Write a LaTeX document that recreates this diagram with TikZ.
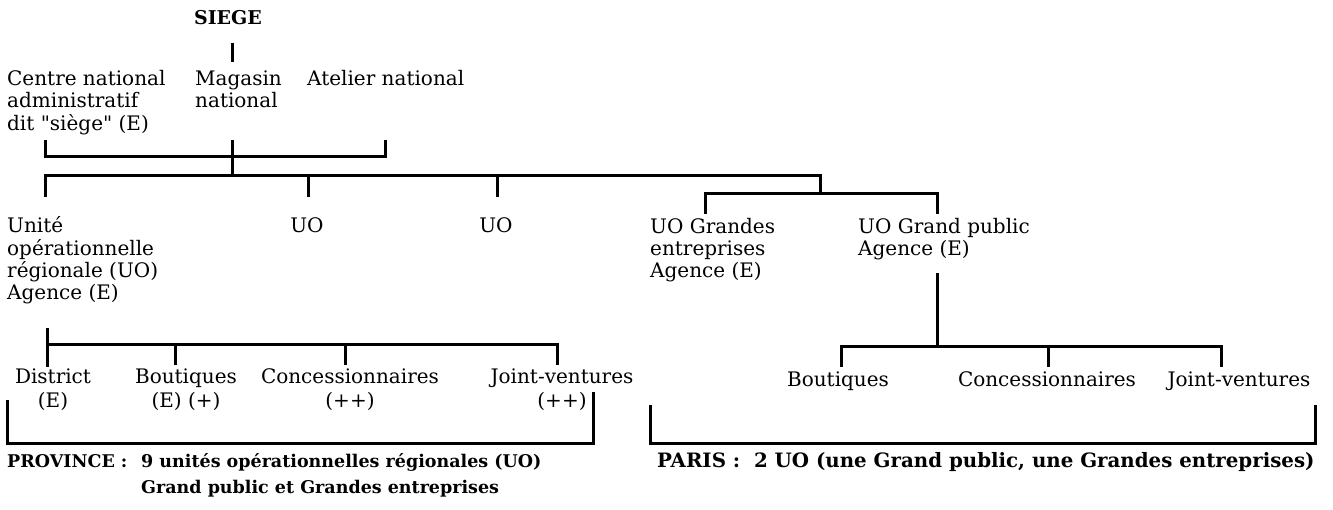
\documentclass[tikz,border=0pt]{standalone}
\usepackage{fontspec}
\setmainfont{DejaVu Serif}
% multi-line labels whose base anchor sits on the first line
\newcommand{\lines}[1]{\begin{tabular}[t]{@{}l@{}}#1\end{tabular}}
\newcommand{\clines}[1]{\begin{tabular}[t]{@{}c@{}}#1\end{tabular}}
\begin{document}
\begin{tikzpicture}[x=1pt,y=-1pt,
  lbl/.style={inner sep=0pt, font=\fontsize{20}{21.5}\selectfont},
  clbl/.style={inner sep=0pt, font=\fontsize{20}{24}\selectfont},
  bold/.style={inner sep=0pt, font=\fontsize{19}{26}\selectfont\bfseries},
  bar/.style={line width=3pt, line join=miter, line cap=butt}]
\useasboundingbox (0,0) rectangle (1333,510);

% --- national level
\node[bold, anchor=base] (siege) at (228,25) {SIEGE};
\node[lbl, anchor=base west] (centre) at (7,86) {\lines{Centre national\\administratif\\dit \textquotedbl siège\textquotedbl{} (E)}};
\node[lbl, anchor=base west] (magasin) at (195,86) {\lines{Magasin\\national}};
\node[lbl, anchor=base west] (atelier) at (307,86) {Atelier national};

% --- operational units
\node[lbl, anchor=base west] (unite) at (7,233) {\lines{Unité\\opérationnelle\\régionale (UO)\\Agence (E)}};
\node[lbl, anchor=base] (uoa) at (307,233) {UO};
\node[lbl, anchor=base] (uob) at (496,233) {UO};
\node[lbl, anchor=base west] (uoge) at (650,234) {\lines{UO Grandes\\entreprises\\Agence (E)}};
\node[lbl, anchor=base west] (uogp) at (858,234) {\lines{UO Grand public\\Agence (E)}};

% --- province outlets
\node[clbl, anchor=base] (district) at (53,384) {\clines{District\\(E)}};
\node[clbl, anchor=base] (boutl) at (186,384) {\clines{Boutiques\\(E) (+)}};
\node[clbl, anchor=base] (concl) at (350,384) {\clines{Concessionnaires\\(++)}};
\node[clbl, anchor=base] (jvl) at (562,384) {\clines{Joint-ventures\\(++)}};

% --- Paris outlets
\node[lbl, anchor=base] (boutr) at (838,386) {Boutiques};
\node[lbl, anchor=base] (concr) at (1047,386) {Concessionnaires};
\node[lbl, anchor=base] (jvr) at (1239,386) {Joint-ventures};

% --- captions
\node[bold, font=\fontsize{17.5}{26}\selectfont\bfseries, anchor=base west] (prov) at (7,467) {\begin{tabular}[t]{@{}p{134pt}@{}l@{}}PROVINCE :&9 unités opérationnelles régionales (UO)\\&Grand public et Grandes entreprises\end{tabular}};
\node[bold, font=\fontsize{19.8}{26}\selectfont\bfseries, anchor=base west] (paris) at (657,467) {PARIS :\ \ 2 UO (une Grand public, une Grandes entreprises)};

% --- junction points
\coordinate (s1) at (232,43);
\coordinate (s2) at (232,62);
\coordinate (j2) at (232,176);
\coordinate (j3) at (820,176);
\coordinate (j4) at (820,194);
\coordinate (gp) at (937,273);
\coordinate (j5) at (937,347);
\coordinate (ag) at (47,328);
\coordinate (j6) at (47,345);

% --- connectors
\draw[bar] (s1) -- (s2);
\draw[bar] (45,140) -- (45,157) -- (385,157) -- (385,140);
\draw[bar] (232,140) -- (j2);
\draw[bar] (45,197) -- (45,176) -- (j3) -- (j4);
\draw[bar] (308,176) -- (308,197);
\draw[bar] (497,176) -- (497,197);
\draw[bar] (705,214) -- (705,194) -- (937,194) -- (937,214);
\draw[bar] (gp) -- (j5);
\draw[bar] (841,367) -- (841,347) -- (1221,347) -- (1221,367);
\draw[bar] (1048,347) -- (1048,367);
\draw[bar] (ag) -- (47,367);
\draw[bar] (j6) -- (557,345) -- (557,365);
\draw[bar] (175,345) -- (175,365);
\draw[bar] (345,345) -- (345,365);

% --- grouping brackets
\draw[bar] (7,400) -- (7,443) -- (593,443) -- (593,392);
\draw[bar] (650,405) -- (650,443) -- (1315,443) -- (1315,405);
\end{tikzpicture}
\end{document}
